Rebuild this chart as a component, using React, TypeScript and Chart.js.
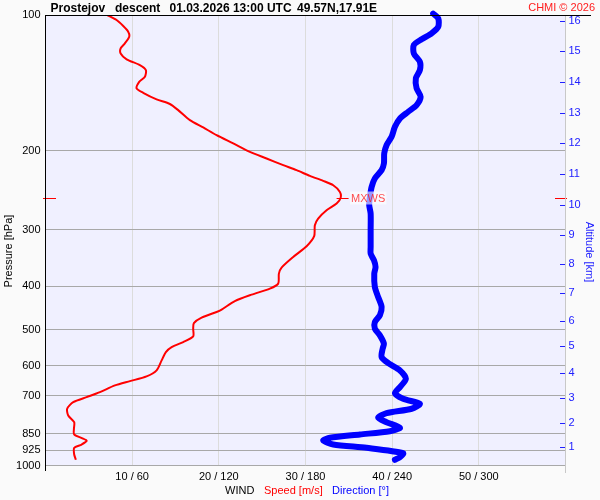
import React, { useEffect, useRef } from "react";
import { Chart, registerables } from "chart.js";
Chart.register(...registerables);

const FONT = '"Liberation Sans", Arial, sans-serif';

// Wind speed profile [m/s] vs pressure [hPa]
const speedPressure = [
  100, 102.6, 105.8, 108.9, 111.7, 115.6, 118.6, 121.7, 125.4, 129.2,
  132.5, 137.1, 140.7, 145.5, 148.8, 153.9, 157.6, 162.6, 171.2, 177.7,
  184.8, 192.8, 201.3, 208.2, 215.4, 221.0, 227.6, 233.4, 238.7, 247.0,
  254.7, 262.1, 271.3, 283.1, 292.9, 309.8, 326.1, 344.5, 363.7, 375.0,
  394.7, 404.9, 417.6, 431.5, 450.8, 456.4, 469.7, 482.9, 496.9, 517.0,
  532.1, 545.9, 560.1, 584.4, 615.0, 634.2, 649.7, 664.1, 687.3, 705.1,
  723.4, 748.2, 774.3, 801.3, 828.8, 853.3, 880.0, 898.3, 913.7, 945.4, 971.2,
];
const speedValues = [
  7.12, 8.2, 8.97, 9.54, 9.66, 9.16, 8.67, 8.67, 9.36, 10.89,
  11.58, 11.47, 10.81, 10.51, 11.27, 12.82, 14.35, 15.31, 16.66, 18.2,
  19.74, 21.66, 23.58, 25.51, 27.43, 28.97, 30.51, 32.04, 33.2, 33.97,
  34.05, 33.59, 32.43, 31.46, 31.08, 31.0, 30.13, 28.58, 27.24, 26.93,
  26.85, 25.89, 23.78, 21.85, 20.32, 19.74, 18.01, 17.12, 17.04, 17.04,
  15.89, 14.55, 13.89, 13.4, 12.82, 11.66, 9.74, 8.01, 6.28, 4.74,
  3.2, 2.5, 2.62, 3.31, 3.28, 3.31, 4.74, 4.17, 3.31, 3.31, 3.51,
];

// Wind direction profile [deg] vs pressure [hPa]
const dirPressure = [
  99.3, 101.7, 106.2, 109.8, 113.2, 116.6, 121.7, 127.0, 132.5, 138.2,
  145.5, 151.9, 158.5, 164.0, 169.7, 177.1, 186.4, 194.5, 202.9, 213.5,
  221.0, 230.6, 240.7, 253.4, 264.4, 275.9, 300.5, 327.3, 338.6, 350.4,
  362.5, 375.0, 401.6, 422.7, 444.9, 464.2, 480.4, 496.9, 514.1, 536.5,
  550.5, 574.5, 592.5, 615.0, 641.7, 669.9, 690.9, 711.0, 729.4, 748.2,
  765.3, 783.4, 801.3, 824.6, 839.1, 853.3, 867.8, 880.0, 898.3, 913.7,
  939.1, 958.6, 971.2,
];
const dirValues = [
  268.4, 271.9, 271.9, 267.3, 260.4, 255.0, 255.0, 259.2, 259.2, 256.4,
  256.9, 259.7, 256.9, 251.1, 245.4, 241.9, 239.6, 236.1, 234.5, 234.3,
  232.7, 228.0, 225.8, 224.6, 224.1, 225.1, 225.1, 225.1, 225.1, 227.4,
  228.5, 227.6, 228.0, 230.3, 232.7, 231.5, 228.0, 228.0, 231.5, 234.3,
  233.4, 232.7, 237.3, 245.4, 249.5, 245.4, 241.9, 247.6, 259.2, 253.5,
  236.1, 230.3, 236.1, 245.4, 238.4, 217.7, 196.9, 192.3, 199.2, 222.3,
  247.6, 245.4, 241.9,
];

const pressureTicks = [100, 200, 300, 400, 500, 600, 700, 850, 925, 1000];
const pressureLabels = ["100", "200", "300", "400", "500", "600", "700", "850", "925", "1000"];
const altitudeKm = ["1", "2", "3", "4", "5", "6", "7", "8", "9", "10", "11", "12", "13", "14", "15", "16"];
const altitudePressure = [
  907.5, 806.5, 709.8, 624.6, 543.9, 478.6, 414.7, 357.6, 308.3, 264.3,
  225.6, 192.5, 165.1, 140.9, 120.2, 103.1,
];
const speedTicks = [10, 20, 30, 40, 50];
const windTickLabels = ["10 / 60", "20 / 120", "30 / 180", "40 / 240", "50 / 300"];

const mxwsSpeed = 34.05;
const mxwsPressure = 255;

export default function App() {
  const ref = useRef<HTMLCanvasElement>(null);

  useEffect(() => {
    const canvas = ref.current;
    if (!canvas) return;

    const overlay = {
      id: "overlay",
      beforeDraw(chart: any) {
        const { ctx, chartArea: a } = chart;
        ctx.save();
        ctx.fillStyle = "#fafafa";
        ctx.fillRect(0, 0, chart.width, chart.height);
        ctx.fillStyle = "#f0f0ff";
        ctx.fillRect(a.left, a.top, a.right - a.left, a.bottom - a.top);
        ctx.restore();
      },
      afterDatasetsDraw(chart: any) {
        const { ctx } = chart;
        const xs = chart.scales.x;
        const ys = chart.scales.y;
        const px = xs.getPixelForValue(mxwsSpeed);
        const py = Math.round(ys.getPixelForValue(mxwsPressure)) + 0.5;
        ctx.save();
        ctx.strokeStyle = "#ff0000";
        ctx.lineWidth = 1;
        ctx.beginPath();
        ctx.moveTo(px - 4, py);
        ctx.lineTo(px + 8, py);
        ctx.moveTo(43, py);
        ctx.lineTo(56, py);
        ctx.moveTo(555, py);
        ctx.lineTo(567, py);
        ctx.stroke();
        ctx.font = `11px ${FONT}`;
        const tw = ctx.measureText("MXWS").width;
        const tx = px + 10.5;
        ctx.fillStyle = "rgba(255,255,255,0.6)";
        ctx.fillRect(tx - 1, py - 7, tw + 2, 13);
        ctx.fillStyle = "rgba(255,0,0,0.7)";
        ctx.textBaseline = "middle";
        ctx.textAlign = "left";
        ctx.fillText("MXWS", tx, py + 0.5);
        ctx.restore();
      },
      afterDraw(chart: any) {
        const { ctx } = chart;
        const ya = chart.scales.yAlt;
        ctx.save();
        // frame lines
        ctx.fillStyle = "#000";
        ctx.fillRect(45, 15, 546, 1);
        ctx.fillRect(45, 15, 1, 456);
        ctx.fillStyle = "#c8c8c8";
        ctx.fillRect(565, 16, 1, 457);
        // altitude tick marks
        ctx.fillStyle = "#2020ff";
        altitudePressure.forEach((p) => {
          const y = Math.round(ya.getPixelForValue(p));
          ctx.fillRect(560, y, 5, 1);
        });
        // title
        ctx.fillStyle = "#000";
        ctx.font = `bold 12px ${FONT}`;
        ctx.textBaseline = "alphabetic";
        ctx.textAlign = "left";
        ctx.fillText("Prostejov", 50.5, 11.5);
        ctx.fillText("descent", 115, 11.5);
        ctx.fillText("01.03.2026 13:00 UTC", 169.5, 11.5);
        ctx.fillText("49.57N,17.91E", 297, 11.5);
        // copyright
        ctx.font = `11px ${FONT}`;
        ctx.fillStyle = "#ff2020";
        ctx.textAlign = "right";
        ctx.fillText("CHMI \u00a9 2026", 595, 11);
        // axis titles
        ctx.textAlign = "center";
        ctx.textBaseline = "middle";
        ctx.fillStyle = "#000";
        ctx.save();
        ctx.translate(8.5, 251);
        ctx.rotate(-Math.PI / 2);
        ctx.fillText("Pressure [hPa]", 0, 0);
        ctx.restore();
        ctx.fillStyle = "#2020ff";
        ctx.save();
        ctx.translate(589, 252);
        ctx.rotate(Math.PI / 2);
        ctx.fillText("Altitude [km]", 0, 0);
        ctx.restore();
        // bottom legend
        ctx.textAlign = "left";
        ctx.fillStyle = "#000";
        ctx.fillText("WIND", 225, 491);
        ctx.fillStyle = "#ff0000";
        ctx.fillText("Speed [m/s]", 264, 491);
        ctx.fillStyle = "#0000ff";
        ctx.fillText("Direction [\u00b0]", 332, 491);
        ctx.restore();
      },
    };

    const chart = new Chart(canvas, {
      type: "line",
      data: {
        datasets: [
          {
            label: "Direction",
            data: dirValues.map((v, i) => ({ x: v, y: dirPressure[i] })),
            xAxisID: "xd",
            yAxisID: "y",
            borderColor: "#0000ff",
            borderWidth: 6,
            pointRadius: 0,
            tension: 0.25,
            borderJoinStyle: "round",
            borderCapStyle: "round",
            clip: false as any,
            order: 2,
          },
          {
            label: "Speed",
            data: speedValues.map((v, i) => ({ x: v, y: speedPressure[i] })),
            xAxisID: "x",
            yAxisID: "y",
            borderColor: "#ff0000",
            borderWidth: 2,
            pointRadius: 0,
            tension: 0.25,
            borderJoinStyle: "round",
            order: 1,
          },
        ],
      },
      options: {
        responsive: false,
        animation: false,
        devicePixelRatio: 1,
        events: [],
        layout: { padding: { top: 15, left: 0, right: 0, bottom: 0 } },
        font: { family: FONT },
        plugins: { legend: { display: false }, tooltip: { enabled: false }, title: { display: false } },
        scales: {
          x: {
            type: "linear",
            position: "bottom",
            min: 0,
            max: 60,
            afterBuildTicks: (s: any) => {
              s.ticks = speedTicks.map((v) => ({ value: v }));
            },
            afterFit: (s: any) => {
              s.height = 34.5;
            },
            ticks: {
              callback: (_v: any, i: number) => windTickLabels[i],
              autoSkip: false,
              maxRotation: 0,
              padding: 5,
              color: "#000",
              font: { size: 11, family: FONT },
            },
            grid: { color: "#dcdcdc", drawTicks: false },
            border: { display: false },
          },
          xd: { type: "linear", min: 0, max: 360, display: false },
          y: {
            type: "logarithmic",
            position: "left",
            reverse: true,
            min: 100,
            max: 1000,
            afterBuildTicks: (s: any) => {
              s.ticks = pressureTicks.map((v) => ({ value: v }));
            },
            afterFit: (s: any) => {
              s.width = 45.5;
            },
            ticks: {
              callback: (_v: any, i: number) => pressureLabels[i],
              autoSkip: false,
              padding: 5,
              color: "#000",
              font: { size: 11, family: FONT },
            },
            grid: { color: "#a8a8a8", drawTicks: false },
            border: { display: false },
          },
          yAlt: {
            type: "logarithmic",
            position: "right",
            reverse: true,
            min: 100,
            max: 1000,
            afterBuildTicks: (s: any) => {
              s.ticks = altitudePressure.map((v) => ({ value: v }));
            },
            afterFit: (s: any) => {
              s.width = 34.5;
            },
            ticks: {
              callback: (_v: any, i: number) => altitudeKm[i],
              autoSkip: false,
              padding: 3,
              color: "#2020ff",
              font: { size: 11, family: FONT },
            },
            grid: { display: false, drawTicks: false },
            border: { display: false },
          },
        },
      } as any,
      plugins: [overlay],
    });

    return () => chart.destroy();
  }, []);

  return (
    <div style={{ position: "absolute", left: 0, top: 0, width: 600, height: 500 }}>
      <canvas ref={ref} width={600} height={500} style={{ display: "block" }} />
    </div>
  );
}
